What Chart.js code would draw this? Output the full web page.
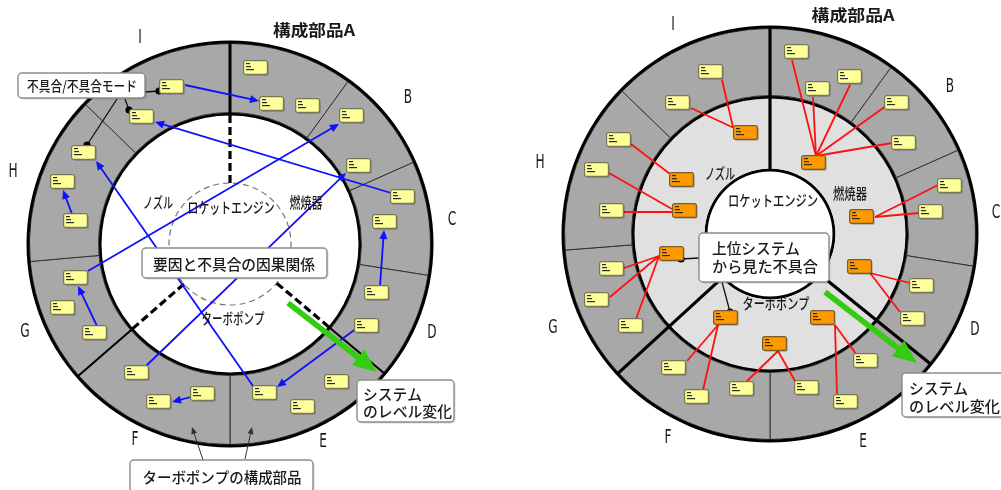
<!DOCTYPE html>
<html>
<head>
<meta charset="utf-8">
<script src="https://cdn.jsdelivr.net/npm/chart.js@4.4.1/dist/chart.umd.min.js"></script>
<style>
  html, body { margin: 0; padding: 0; background: #fff; }
  #stage { position: relative; width: 1001px; height: 490px; overflow: hidden; }
  #stage canvas { position: absolute; }
</style>
</head>
<body>
<div id="stage">
  <canvas id="leftRing" width="460" height="488" style="left:0;top:0"></canvas>
  <canvas id="rightRing" width="460" height="468" style="left:540px;top:0"></canvas>
  <canvas id="overlay" width="1001" height="490" style="left:0;top:0"></canvas>
</div>
<script>
// ---- data ----

// component parts of the outer ring, span in degrees clockwise from 12 o'clock
const partNames = ['A', 'B', 'C', 'D', 'E', 'F', 'G', 'H', 'I'];
const leftPartSpan = [36, 30, 33, 31, 50, 49, 36, 49, 46];
const rightPartSpan = [36, 30, 33, 30, 51, 47.5, 38, 48.5, 46];

// subsystems of the middle ring (right diagram)
const subsystemNames = ['燃焼器', 'ターボポンプ', 'ノズル'];
const rightSubsystemSpan = [129, 98.5, 132.5];

// heavy divider angles (deg, 0 = 3 o'clock, clockwise)
const leftDividers = [-90, 139, 40];
const rightDividers = [-90, 137.5, 39];

// failure mode boxes (x, y)
const leftModes = [
  [172, 87], [142, 117], [84, 153], [63, 182], [76, 221],
  [256, 68], [272, 104], [308, 106], [352, 116], [359, 166],
  [403, 197], [385, 222], [76, 278], [63, 308], [95, 333],
  [137, 373], [159, 402], [203, 394], [377, 293], [367, 326],
  [337, 382], [265, 393], [303, 407]
];
const rightModes = [
  [711, 72], [678, 103], [619, 140], [597, 170], [612, 211],
  [797, 52], [818, 89], [850, 77], [897, 103], [904, 143],
  [950, 186], [931, 212], [612, 269], [597, 300], [631, 326],
  [674, 368], [697, 397], [742, 389], [922, 286], [913, 319],
  [866, 361], [807, 388], [846, 402]
];
const rightSysModes = [
  [746, 133], [682, 180], [685, 211], [814, 163], [862, 217],
  [672, 254], [726, 318], [775, 344], [860, 267], [823, 318]
];

// cause -> failure arrows (left), from x,y to x,y
const causeArrows = [
  [185, 85, 259, 101], [391, 193, 155, 122], [88, 271, 339, 124],
  [146, 366, 346, 173], [253, 386, 96, 161], [72, 214, 63, 190],
  [97, 326, 78, 286], [191, 397, 172, 402], [357, 328, 277, 387],
  [380, 286, 384, 230]
];

// part failure -> upper system failure links (right)
const effectLinks = [
  [722, 80, 733, 127], [691, 108, 734, 128],
  [631, 144, 670, 174],
  [609, 173, 672, 209], [624, 212, 672, 212],
  [792, 60, 816, 156], [813, 97, 816, 156], [850, 85, 816, 156],
  [886, 106, 816, 156], [892, 143, 816, 156],
  [938, 185, 875, 217], [919, 213, 875, 217],
  [624, 268, 659, 256], [610, 297, 659, 256], [636, 319, 659, 256],
  [687, 361, 718, 325], [703, 390, 718, 325],
  [746, 382, 778, 351], [795, 381, 778, 351],
  [856, 354, 835, 325], [837, 395, 835, 325],
  [910, 283, 870, 273], [900, 312, 870, 273]
];

const noteLeaders = [[145, 92, 159, 91], [125, 99, 129, 110], [117, 99, 87, 145], [699, 258, 681, 259], [722, 282, 730, 312]];
const partPointers = [[203, 460, 192, 427], [245, 459, 252, 427]];
const levelArrows = [[288, 303, 377, 372], [825, 292, 917, 363]];

// texts
const titleText = '構成部品A';
const letterText = ['B', 'C', 'D', 'E', 'F', 'G', 'H', 'I'];
const engineText = 'ロケットエンジン';
const noteTexts = ['不具合/不具合モード', '要因と不具合の因果関係', 'ターボポンプの構成部品'];
const levelText = ['システム', 'のレベル変化'];
const upperText = ['上位システム', 'から見た不具合'];

// ---- layout ----
const leftCenter = [230, 244];
const rightCenter = [770, 234];
const letterPos = {
  left: [[408, 98], [452, 220], [432, 333], [323, 442], [135, 440], [25, 332], [13, 172], [140, 38]],
  right: [[950, 87], [996, 213], [975, 330], [863, 442], [668, 438], [553, 328], [540, 163], [673, 25]]
};
const subsystemPos = {
  left: [[306, 202, 33], [233, 318, 63], [158, 202, 30]],
  right: [[850, 193, 34], [776, 303, 67], [720, 173, 30]]
};
const CJK = '"Noto Sans CJK JP", "Noto Sans CJK SC", sans-serif';

function makeBox(fill, edge) {
  const c = document.createElement('canvas');
  c.width = 26; c.height = 16;
  const g = c.getContext('2d');
  g.fillStyle = 'rgba(0,0,0,0.18)';
  g.beginPath(); g.roundRect(2, 2, 24, 14, 2); g.fill();
  g.fillStyle = fill; g.strokeStyle = edge; g.lineWidth = 1.2;
  g.beginPath(); g.roundRect(0.6, 0.6, 23.8, 13.8, 2); g.fill(); g.stroke();
  g.fillStyle = '#2b2b2b';
  g.fillRect(3, 3, 4, 1.2); g.fillRect(3, 6, 5, 1.2); g.fillRect(3, 9, 8, 1.2);
  return c;
}
const yellowBox = makeBox('#ffff99', '#77775a');
const orangeBox = makeBox('#ff9900', '#7a5a30');

// ---- ring charts ----
// cutout is given as a share of the outer radius
function ringChart(id, datasets, radius, inner) {
  return new Chart(document.getElementById(id), {
    type: 'doughnut',
    data: { labels: partNames, datasets: datasets },
    options: {
      responsive: false, animation: false, events: [],
      radius: radius, cutout: (inner / radius * 100) + '%', rotation: 0, circumference: 360,
      layout: { padding: 0, autoPadding: false },
      plugins: { legend: { display: false }, tooltip: { enabled: false } }
    }
  });
}
const band = w => ({ data: [360], backgroundColor: '#000', borderWidth: 0, weight: w });

ringChart('leftRing', [
  band(3),
  { data: leftPartSpan, backgroundColor: '#a8a8a8', borderColor: '#333', borderWidth: 1, weight: 69 },
  band(3)
], 203.5, 128.5);

ringChart('rightRing', [
  band(3),
  { data: rightPartSpan, backgroundColor: '#a8a8a8', borderColor: '#333', borderWidth: 1, weight: 67 },
  band(3),
  { data: rightSubsystemSpan, backgroundColor: '#e0e0e0', borderWidth: 0, weight: 70 },
  band(3)
], 208.5, 62.5);

// ---- overlay: boxes, links, notes ----
function shorten(s, len) {
  const dx = s[2] - s[0], dy = s[3] - s[1], d = Math.hypot(dx, dy);
  return [s[0], s[1], s[2] - dx / d * len, s[3] - dy / d * len];
}
function segData(s) { return [{ x: s[0], y: s[1] }, { x: s[2], y: s[3] }]; }
function lineSet(s, color, width, extra) {
  return Object.assign({
    type: 'line', data: segData(s), borderColor: color, borderWidth: width,
    pointRadius: 0, showLine: true, fill: false, order: 5
  }, extra || {});
}

const datasets = [
  { label: 'upper', data: rightSysModes.map(p => ({ x: p[0], y: p[1] })), pointStyle: orangeBox, pointRadius: 5, order: 0 },
  { label: 'right', data: rightModes.map(p => ({ x: p[0], y: p[1] })), pointStyle: yellowBox, pointRadius: 5, order: 0 },
  { label: 'left', data: leftModes.map(p => ({ x: p[0], y: p[1] })), pointStyle: yellowBox, pointRadius: 5, order: 0 }
];
causeArrows.forEach(s => datasets.push(lineSet(shorten(s, 6), '#1010ff', 1.8)));
effectLinks.forEach(s => datasets.push(lineSet(s, '#ff1010', 1.8)));
noteLeaders.forEach(s => datasets.push(lineSet(s, '#111', 1.3, {
  pointRadius: [0, 3.6], pointBackgroundColor: '#000', pointBorderWidth: 0, order: 1
})));
partPointers.forEach(s => datasets.push(lineSet(shorten(s, 5), '#333', 1, { order: 1 })));
levelArrows.forEach(s => datasets.push(lineSet(shorten(s, 20), '#33cc11', 5.5, { order: 1 })));

function head(ctx, x1, y1, x2, y2, len, half, color) {
  const a = Math.atan2(y2 - y1, x2 - x1);
  ctx.save();
  ctx.translate(x2, y2); ctx.rotate(a);
  ctx.fillStyle = color;
  ctx.beginPath(); ctx.moveTo(0, 0); ctx.lineTo(-len, -half); ctx.lineTo(-len, half); ctx.closePath(); ctx.fill();
  ctx.restore();
}
function drawLabel(ctx, str, x, y, font, width, align, scale) {
  ctx.save();
  ctx.font = font;
  ctx.textBaseline = 'middle';
  ctx.textAlign = align || 'center';
  const s = width ? width / ctx.measureText(str).width : (scale || 1);
  ctx.translate(x, y); ctx.scale(s, 1);
  ctx.fillStyle = '#1a1a1a';
  ctx.fillText(str, 0, 0);
  ctx.restore();
}
function callout(ctx, x1, y1, x2, y2) {
  ctx.save();
  ctx.fillStyle = 'rgba(0,0,0,0.15)';
  ctx.beginPath(); ctx.roundRect(x1 + 1.5, y1 + 1.5, x2 - x1, y2 - y1, 4); ctx.fill();
  ctx.fillStyle = '#fff'; ctx.strokeStyle = '#8c8c8c'; ctx.lineWidth = 1.4;
  ctx.beginPath(); ctx.roundRect(x1, y1, x2 - x1, y2 - y1, 4); ctx.fill(); ctx.stroke();
  ctx.restore();
}

const ringPlugin = {
  id: 'ringLines',
  beforeDatasetsDraw(chart) {
    const { ctx, scales: { x, y } } = chart;
    const k = x.getPixelForValue(1) - x.getPixelForValue(0);
    function ray(c, deg, r0, r1, width, dash) {
      const a = deg * Math.PI / 180;
      ctx.save();
      ctx.strokeStyle = '#000'; ctx.lineWidth = width; ctx.setLineDash(dash || []);
      ctx.beginPath();
      ctx.moveTo(x.getPixelForValue(c[0] + r0 * Math.cos(a)), y.getPixelForValue(c[1] + r0 * Math.sin(a)));
      ctx.lineTo(x.getPixelForValue(c[0] + r1 * Math.cos(a)), y.getPixelForValue(c[1] + r1 * Math.sin(a)));
      ctx.stroke();
      ctx.restore();
    }
    // left: dashed engine circle and subsystem dividers
    ctx.save();
    ctx.strokeStyle = '#777'; ctx.lineWidth = 1.2; ctx.setLineDash([6, 4]);
    ctx.beginPath();
    ctx.arc(x.getPixelForValue(leftCenter[0]), y.getPixelForValue(leftCenter[1]), 61 * k, 0, Math.PI * 2);
    ctx.stroke();
    ctx.restore();
    leftDividers.forEach((d, i) => {
      ray(leftCenter, d, 61, 129, 3.2, [8, 4]);
      ray(leftCenter, d, 129, 202, i === 0 ? 3 : 2);
    });
    rightDividers.forEach(d => ray(rightCenter, d, 63, 207, 3.2));
  },
  afterDatasetsDraw(chart) {
    const { ctx, scales: { x, y } } = chart;
    const X = v => x.getPixelForValue(v), Y = v => y.getPixelForValue(v);
    causeArrows.forEach(s => head(ctx, X(s[0]), Y(s[1]), X(s[2]), Y(s[3]), 9, 4, '#1010ff'));
    partPointers.forEach(s => head(ctx, X(s[0]), Y(s[1]), X(s[2]), Y(s[3]), 7, 3, '#333'));
    levelArrows.forEach(s => head(ctx, X(s[0]), Y(s[1]), X(s[2]), Y(s[3]), 24, 10, '#33cc11'));

    // ring texts
    drawLabel(ctx, titleText, X(314), Y(30), 'bold 16px ' + CJK, 82);
    drawLabel(ctx, titleText, X(853), Y(15), 'bold 16px ' + CJK, 83);
    ['left', 'right'].forEach(side => {
      letterPos[side].forEach((p, i) => drawLabel(ctx, letterText[i], X(p[0]), Y(p[1]), '19px "DejaVu Sans"', 0, 'center', 0.64));
      subsystemPos[side].forEach((p, i) => drawLabel(ctx, subsystemNames[i], X(p[0]), Y(p[1]), '500 15px ' + CJK, p[2]));
    });
    drawLabel(ctx, engineText, X(231), Y(207), '500 15px ' + CJK, 87);
    drawLabel(ctx, engineText, X(773), Y(200), '500 15px ' + CJK, 90);

    // callouts
    callout(ctx, X(18), Y(73), X(145), Y(98));
    drawLabel(ctx, noteTexts[0], X(82), Y(86), '500 14px ' + CJK, 110);
    callout(ctx, X(142), Y(248), X(327), Y(278));
    drawLabel(ctx, noteTexts[1], X(234), Y(264), '500 15px ' + CJK, 162);
    callout(ctx, X(130), Y(460), X(313), Y(494));
    drawLabel(ctx, noteTexts[2], X(222), Y(477), '500 15px ' + CJK, 159);
    callout(ctx, X(357), Y(380), X(454), Y(422));
    drawLabel(ctx, levelText[0], X(363), Y(394), '500 15px ' + CJK, 59, 'left');
    drawLabel(ctx, levelText[1], X(363), Y(411), '500 15px ' + CJK, 89, 'left');
    callout(ctx, X(902), Y(373), X(1006), Y(417));
    drawLabel(ctx, levelText[0], X(909), Y(388), '500 15px ' + CJK, 59, 'left');
    drawLabel(ctx, levelText[1], X(909), Y(406), '500 15px ' + CJK, 91, 'left');
    callout(ctx, X(699), Y(233), X(829), Y(282));
    drawLabel(ctx, upperText[0], X(712), Y(248), '500 15px ' + CJK, 88, 'left');
    drawLabel(ctx, upperText[1], X(712), Y(266), '500 15px ' + CJK, 106, 'left');
  }
};

new Chart(document.getElementById('overlay'), {
  type: 'scatter',
  data: { datasets: datasets },
  options: {
    responsive: false, animation: false, events: [],
    layout: { padding: 0, autoPadding: false },
    scales: {
      x: { type: 'linear', min: 0, max: 1001, display: false },
      y: { type: 'linear', min: 0, max: 490, reverse: true, display: false }
    },
    plugins: { legend: { display: false }, tooltip: { enabled: false } }
  },
  plugins: [ringPlugin]
});
</script>
</body>
</html>
